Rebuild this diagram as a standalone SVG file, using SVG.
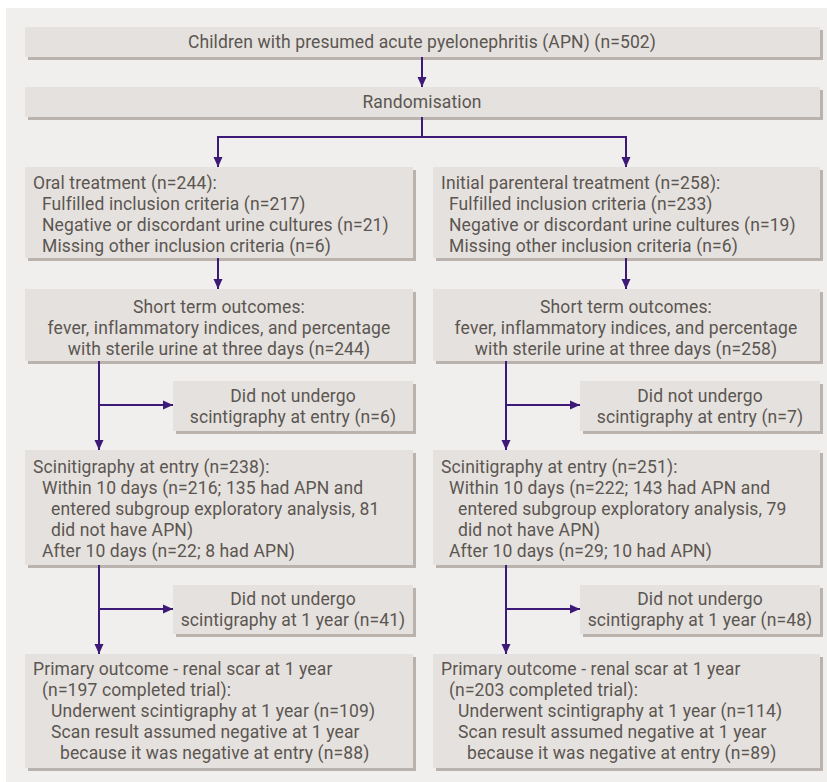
<svg xmlns="http://www.w3.org/2000/svg" width="827" height="782" viewBox="0 0 827 782">
<defs>
<style>
.bg{fill:#f0efed}
.box{fill:#e5e1de}
.sh{fill:#bab2ad}
text{font-family:Roboto,"Open Sans","Liberation Sans",sans-serif;font-size:17.5px;letter-spacing:0.12px;fill:#5b5651}
.c{text-anchor:middle}
.ln{stroke:#3d1a78;stroke-width:2;fill:none}
</style>
<marker id="ah" markerWidth="10" markerHeight="10" viewBox="0 0 10 10" refX="10" refY="5" orient="auto" markerUnits="userSpaceOnUse">
<path d="M0,0.5 L10,5 L0,9.5 Z" fill="#3d1a78"/>
</marker>
</defs>
<rect class="bg" x="6" y="8" width="821" height="774"/>

<g id="n_children">
<rect class="sh" x="28" y="30" width="795" height="30"/>
<rect class="box" x="25" y="27" width="795" height="30"/>
<text class="c" x="422" y="48">Children with presumed acute pyelonephritis (APN) (n=502)</text>
</g>
<g id="n_random">
<rect class="sh" x="28" y="90" width="795" height="30"/>
<rect class="box" x="25" y="87" width="795" height="30"/>
<text class="c" x="422" y="108">Randomisation</text>
</g>

<g id="n_oral">
<rect class="sh" x="28" y="170" width="388" height="91"/>
<rect class="box" x="25" y="167" width="388" height="91"/>
<text x="33" y="189">Oral treatment (n=244):</text>
<text x="42" y="210">Fulfilled inclusion criteria (n=217)</text>
<text x="42" y="231">Negative or discordant urine cultures (n=21)</text>
<text x="42" y="252">Missing other inclusion criteria (n=6)</text>
</g>
<g id="n_parent">
<rect class="sh" x="436" y="170" width="387" height="91"/>
<rect class="box" x="433" y="167" width="387" height="91"/>
<text x="441" y="189">Initial parenteral treatment (n=258):</text>
<text x="449" y="210">Fulfilled inclusion criteria (n=233)</text>
<text x="449" y="231">Negative or discordant urine cultures (n=19)</text>
<text x="449" y="252">Missing other inclusion criteria (n=6)</text>
</g>

<g id="n_short_l">
<rect class="sh" x="28" y="292" width="388" height="72"/>
<rect class="box" x="25" y="289" width="388" height="72"/>
<text class="c" x="219" y="313">Short term outcomes:</text>
<text class="c" x="219" y="334">fever, inflammatory indices, and percentage</text>
<text class="c" x="219" y="355">with sterile urine at three days (n=244)</text>
</g>
<g id="n_short_r">
<rect class="sh" x="436" y="292" width="387" height="72"/>
<rect class="box" x="433" y="289" width="387" height="72"/>
<text class="c" x="626" y="313">Short term outcomes:</text>
<text class="c" x="626" y="334">fever, inflammatory indices, and percentage</text>
<text class="c" x="626" y="355">with sterile urine at three days (n=258)</text>
</g>

<g id="n_noscan_l">
<rect class="sh" x="176" y="384" width="240" height="50"/>
<rect class="box" x="173" y="381" width="240" height="50"/>
<text class="c" x="293" y="402">Did not undergo</text>
<text class="c" x="293" y="423">scintigraphy at entry (n=6)</text>
</g>
<g id="n_noscan_r">
<rect class="sh" x="583" y="384" width="240" height="50"/>
<rect class="box" x="580" y="381" width="240" height="50"/>
<text class="c" x="700" y="402">Did not undergo</text>
<text class="c" x="700" y="423">scintigraphy at entry (n=7)</text>
</g>

<g id="n_scan_l">
<rect class="sh" x="28" y="453" width="388" height="115"/>
<rect class="box" x="25" y="450" width="388" height="115"/>
<text x="33" y="473">Scinitigraphy at entry (n=238):</text>
<text x="42" y="494">Within 10 days (n=216; 135 had APN and</text>
<text x="51" y="515">entered subgroup exploratory analysis, 81</text>
<text x="51" y="536">did not have APN)</text>
<text x="42" y="557">After 10 days (n=22; 8 had APN)</text>
</g>
<g id="n_scan_r">
<rect class="sh" x="436" y="453" width="387" height="115"/>
<rect class="box" x="433" y="450" width="387" height="115"/>
<text x="441" y="473">Scinitigraphy at entry (n=251):</text>
<text x="449" y="494">Within 10 days (n=222; 143 had APN and</text>
<text x="458" y="515">entered subgroup exploratory analysis, 79</text>
<text x="458" y="536">did not have APN)</text>
<text x="449" y="557">After 10 days (n=29; 10 had APN)</text>
</g>

<g id="n_no1y_l">
<rect class="sh" x="176" y="588" width="240" height="49"/>
<rect class="box" x="173" y="585" width="240" height="49"/>
<text class="c" x="293" y="605">Did not undergo</text>
<text class="c" x="293" y="626">scintigraphy at 1 year (n=41)</text>
</g>
<g id="n_no1y_r">
<rect class="sh" x="583" y="588" width="240" height="49"/>
<rect class="box" x="580" y="585" width="240" height="49"/>
<text class="c" x="700" y="605">Did not undergo</text>
<text class="c" x="700" y="626">scintigraphy at 1 year (n=48)</text>
</g>

<g id="n_primary_l">
<rect class="sh" x="28" y="657" width="388" height="114"/>
<rect class="box" x="25" y="654" width="388" height="114"/>
<text x="33" y="675">Primary outcome - renal scar at 1 year</text>
<text x="42" y="696">(n=197 completed trial):</text>
<text x="51" y="717">Underwent scintigraphy at 1 year (n=109)</text>
<text x="51" y="738">Scan result assumed negative at 1 year</text>
<text x="60" y="759">because it was negative at entry (n=88)</text>
</g>
<g id="n_primary_r">
<rect class="sh" x="436" y="657" width="387" height="114"/>
<rect class="box" x="433" y="654" width="387" height="114"/>
<text x="441" y="675">Primary outcome - renal scar at 1 year</text>
<text x="449" y="696">(n=203 completed trial):</text>
<text x="458" y="717">Underwent scintigraphy at 1 year (n=114)</text>
<text x="458" y="738">Scan result assumed negative at 1 year</text>
<text x="467" y="759">because it was negative at entry (n=89)</text>
</g>

<g id="connectors">
<line class="ln" x1="422" y1="57" x2="422" y2="87" marker-end="url(#ah)"/>
<polyline class="ln" points="422,117 422,137 218,137 218,167" marker-end="url(#ah)"/>
<polyline class="ln" points="422,137 626,137 626,167" marker-end="url(#ah)"/>
<line class="ln" x1="218" y1="258" x2="218" y2="289" marker-end="url(#ah)"/>
<line class="ln" x1="626" y1="258" x2="626" y2="289" marker-end="url(#ah)"/>
<line class="ln" x1="99" y1="361" x2="99" y2="450" marker-end="url(#ah)"/>
<line class="ln" x1="99" y1="405" x2="173" y2="405" marker-end="url(#ah)"/>
<line class="ln" x1="506" y1="361" x2="506" y2="450" marker-end="url(#ah)"/>
<line class="ln" x1="506" y1="405" x2="580" y2="405" marker-end="url(#ah)"/>
<line class="ln" x1="99" y1="565" x2="99" y2="654" marker-end="url(#ah)"/>
<line class="ln" x1="99" y1="609" x2="173" y2="609" marker-end="url(#ah)"/>
<line class="ln" x1="506" y1="565" x2="506" y2="654" marker-end="url(#ah)"/>
<line class="ln" x1="506" y1="609" x2="580" y2="609" marker-end="url(#ah)"/>
</g>
</svg>
